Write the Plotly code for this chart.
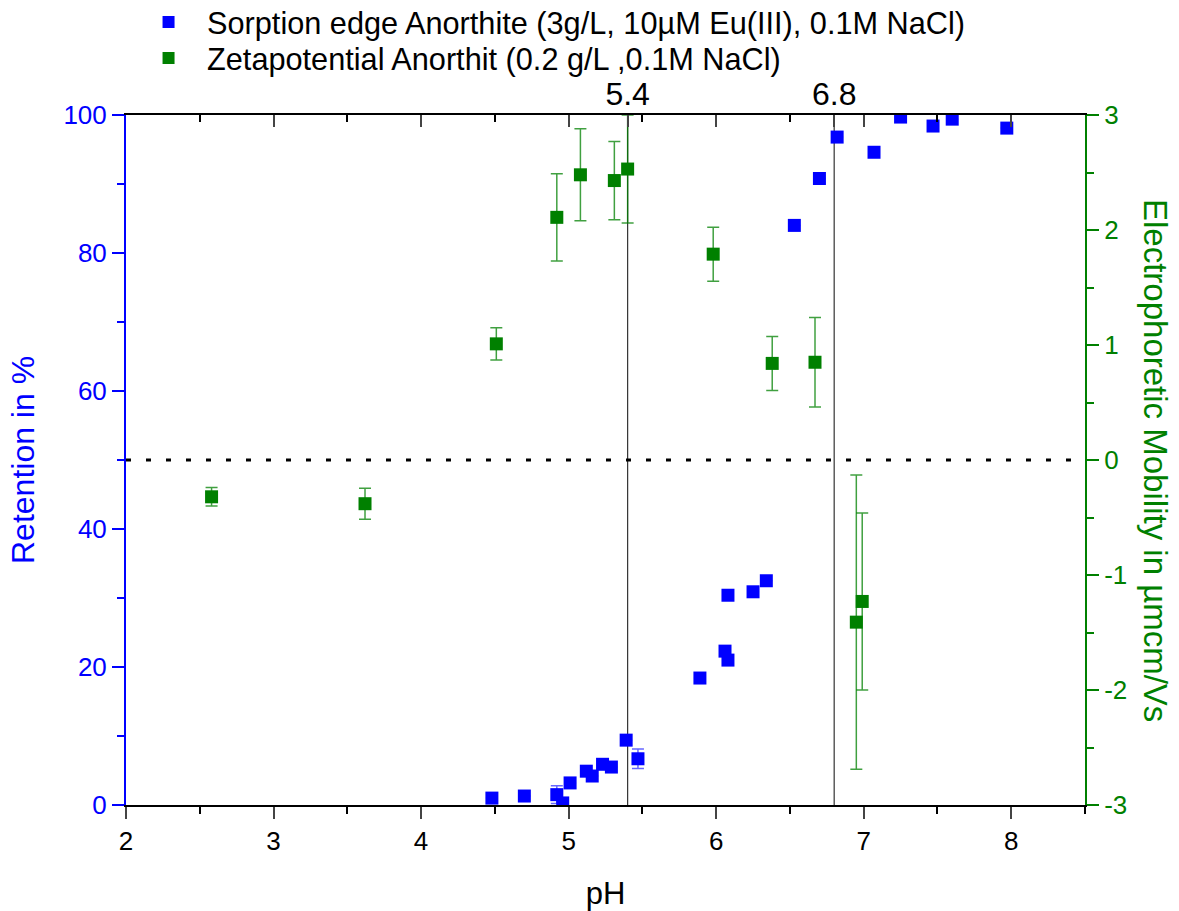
import plotly.graph_objects as go

# Sorption edge (retention %)
sorp_ph = [4.48, 4.70, 4.92, 4.96, 5.01, 5.12, 5.16, 5.23, 5.29, 5.39, 5.47,
           5.89, 6.06, 6.08, 6.08, 6.25, 6.34, 6.53, 6.70, 6.82, 7.07, 7.25, 7.47, 7.60, 7.97]
sorp_ret = [1.0, 1.3, 1.5, 0.3, 3.2, 4.9, 4.2, 5.9, 5.5, 9.4, 6.7,
            18.4, 22.3, 21.0, 30.4, 30.9, 32.5, 84.0, 90.8, 96.8, 94.6, 99.7, 98.4, 99.4, 98.1]
sorp_err = [0, 0, 1.3, 0, 0, 0, 0, 0, 0, 0, 1.4,
            0, 0, 0, 0, 0, 0, 0, 0, 0, 0, 0, 0, 0, 0]

# Electrophoretic mobility
zeta_ph = [2.58, 3.62, 4.51, 4.92, 5.08, 5.31, 5.40, 5.98, 6.38, 6.67, 6.95, 6.99]
zeta_mob = [-0.32, -0.38, 1.01, 2.11, 2.48, 2.43, 2.53, 1.79, 0.84, 0.85, -1.41, -1.23]
zeta_err = [0.08, 0.135, 0.14, 0.38, 0.40, 0.34, 0.47, 0.235, 0.235, 0.39, 1.28, 0.77]

marks_ph = [5.4, 6.8]
marks_txt = ["5.4", "6.8"]

mob_ticks = [-3, -2, -1, 0, 1, 2, 3]
mob_ticktext = ["-3", "-2", "-1", "0", "1", "2", "3"]

BLUE = "#0000ff"
GREEN = "#008000"
FONT = "Liberation Sans, Arial, sans-serif"

fig = go.Figure()
fig.add_trace(go.Scatter(
    x=sorp_ph, y=sorp_ret, mode="markers",
    name="Sorption edge Anorthite (3g/L, 10µM Eu(III), 0.1M NaCl)",
    marker=dict(symbol="square", size=13, color=BLUE),
    error_y=dict(type="data", array=sorp_err, visible=True, color="rgba(0,0,255,0.6)",
                 thickness=1.5, width=6),
    xaxis="x", yaxis="y", legend="legend"))
fig.add_trace(go.Scatter(
    x=zeta_ph, y=zeta_mob, mode="markers",
    name="Zetapotential Anorthit (0.2 g/L ,0.1M NaCl)",
    marker=dict(symbol="square", size=13, color=GREEN),
    error_y=dict(type="data", array=zeta_err, visible=True, color="rgba(0,128,0,0.75)",
                 thickness=1.5, width=6),
    xaxis="x", yaxis="y2", legend="legend2"))
# invisible trace to anchor top axis
fig.add_trace(go.Scatter(x=[2, 8.5], y=[0, 0], mode="markers", marker=dict(opacity=0),
                         showlegend=False, hoverinfo="skip", xaxis="x2", yaxis="y"))

top_vals = [2, 3, 4, 5, 6, 7, 8] + marks_ph
top_txt = [""] * 7 + marks_txt

leg_common = dict(xref="container", yref="container", xanchor="left", yanchor="middle",
                  font=dict(size=30.7, color="black"), bgcolor="rgba(0,0,0,0)",
                  itemsizing="constant", itemwidth=67)

fig.update_layout(
    width=1179, height=911,
    margin=dict(l=126, r=94, t=115, b=106, autoexpand=False),
    paper_bgcolor="white", plot_bgcolor="white",
    font=dict(family=FONT, size=26, color="black"),
    showlegend=True,
    legend=dict(x=0.1103, y=1 - 22 / 911, **leg_common),
    legend2=dict(x=0.1103, y=1 - 58 / 911, **leg_common),
    xaxis=dict(range=[2, 8.5], dtick=1, tick0=2, ticks="outside", ticklen=12, tickwidth=2,
               showline=True, linecolor="black", linewidth=2, showgrid=False, zeroline=False,
               tickfont=dict(size=26, color="black"),
               minor=dict(dtick=0.5, ticks="outside", ticklen=7, tickwidth=2, tickcolor="black"),
               title=dict(text="pH", font=dict(size=31, color="black"), standoff=30)),
    xaxis2=dict(range=[2, 8.5], overlaying="x", side="top", anchor="y",
                tickvals=top_vals, ticktext=top_txt, ticks="inside", ticklen=12, tickwidth=2,
                showline=True, linecolor="black", linewidth=2, showgrid=False, zeroline=False,
                tickfont=dict(size=32, color="black"), ticklabelstandoff=-5,
                minor=dict(dtick=0.5, ticks="inside", ticklen=7, tickwidth=2, tickcolor="black")),
    yaxis=dict(range=[0, 100], dtick=20, ticks="outside", ticklen=12, tickwidth=2,
               tickcolor=BLUE, showline=True, linecolor=BLUE, linewidth=2,
               showgrid=False, zeroline=False, tickfont=dict(size=26, color=BLUE),
               minor=dict(dtick=10, ticks="outside", ticklen=7, tickwidth=2, tickcolor=BLUE)),
    yaxis2=dict(range=[-3, 3], tickvals=mob_ticks, ticktext=mob_ticktext,
                overlaying="y", side="right", anchor="x",
                ticks="outside", ticklen=12, tickwidth=2, tickcolor=GREEN,
                showline=True, linecolor=GREEN, linewidth=2, showgrid=False, zeroline=False,
                tickfont=dict(size=26, color=GREEN),
                minor=dict(dtick=0.5, ticks="outside", ticklen=7, tickwidth=2, tickcolor=GREEN)),
)

for xv in marks_ph:
    fig.add_shape(type="line", x0=xv, x1=xv, y0=0, y1=1, xref="x", yref="paper",
                  line=dict(color="#333333", width=1.2), layer="below")
fig.add_shape(type="line", x0=0, x1=1, y0=0, y1=0, xref="paper", yref="y2",
              line=dict(color="black", width=3, dash="5px,15px"), layer="below")

fig.add_annotation(text="Retention in %", textangle=-90,
                   x=(23 - 126) / 959, y=0.5, xref="paper", yref="paper",
                   showarrow=False, font=dict(size=32, color=BLUE),
                   xanchor="center", yanchor="middle")
fig.add_annotation(text="Electrophoretic Mobility in µmcm/Vs", textangle=90,
                   x=1 + (1156 - 1085) / 959, y=0.5, xref="paper", yref="paper",
                   showarrow=False, font=dict(size=33, color=GREEN),
                   xanchor="center", yanchor="middle")

fig.write_html("out.html", config={"displayModeBar": False},
               post_script="document.body.style.margin='0';")
